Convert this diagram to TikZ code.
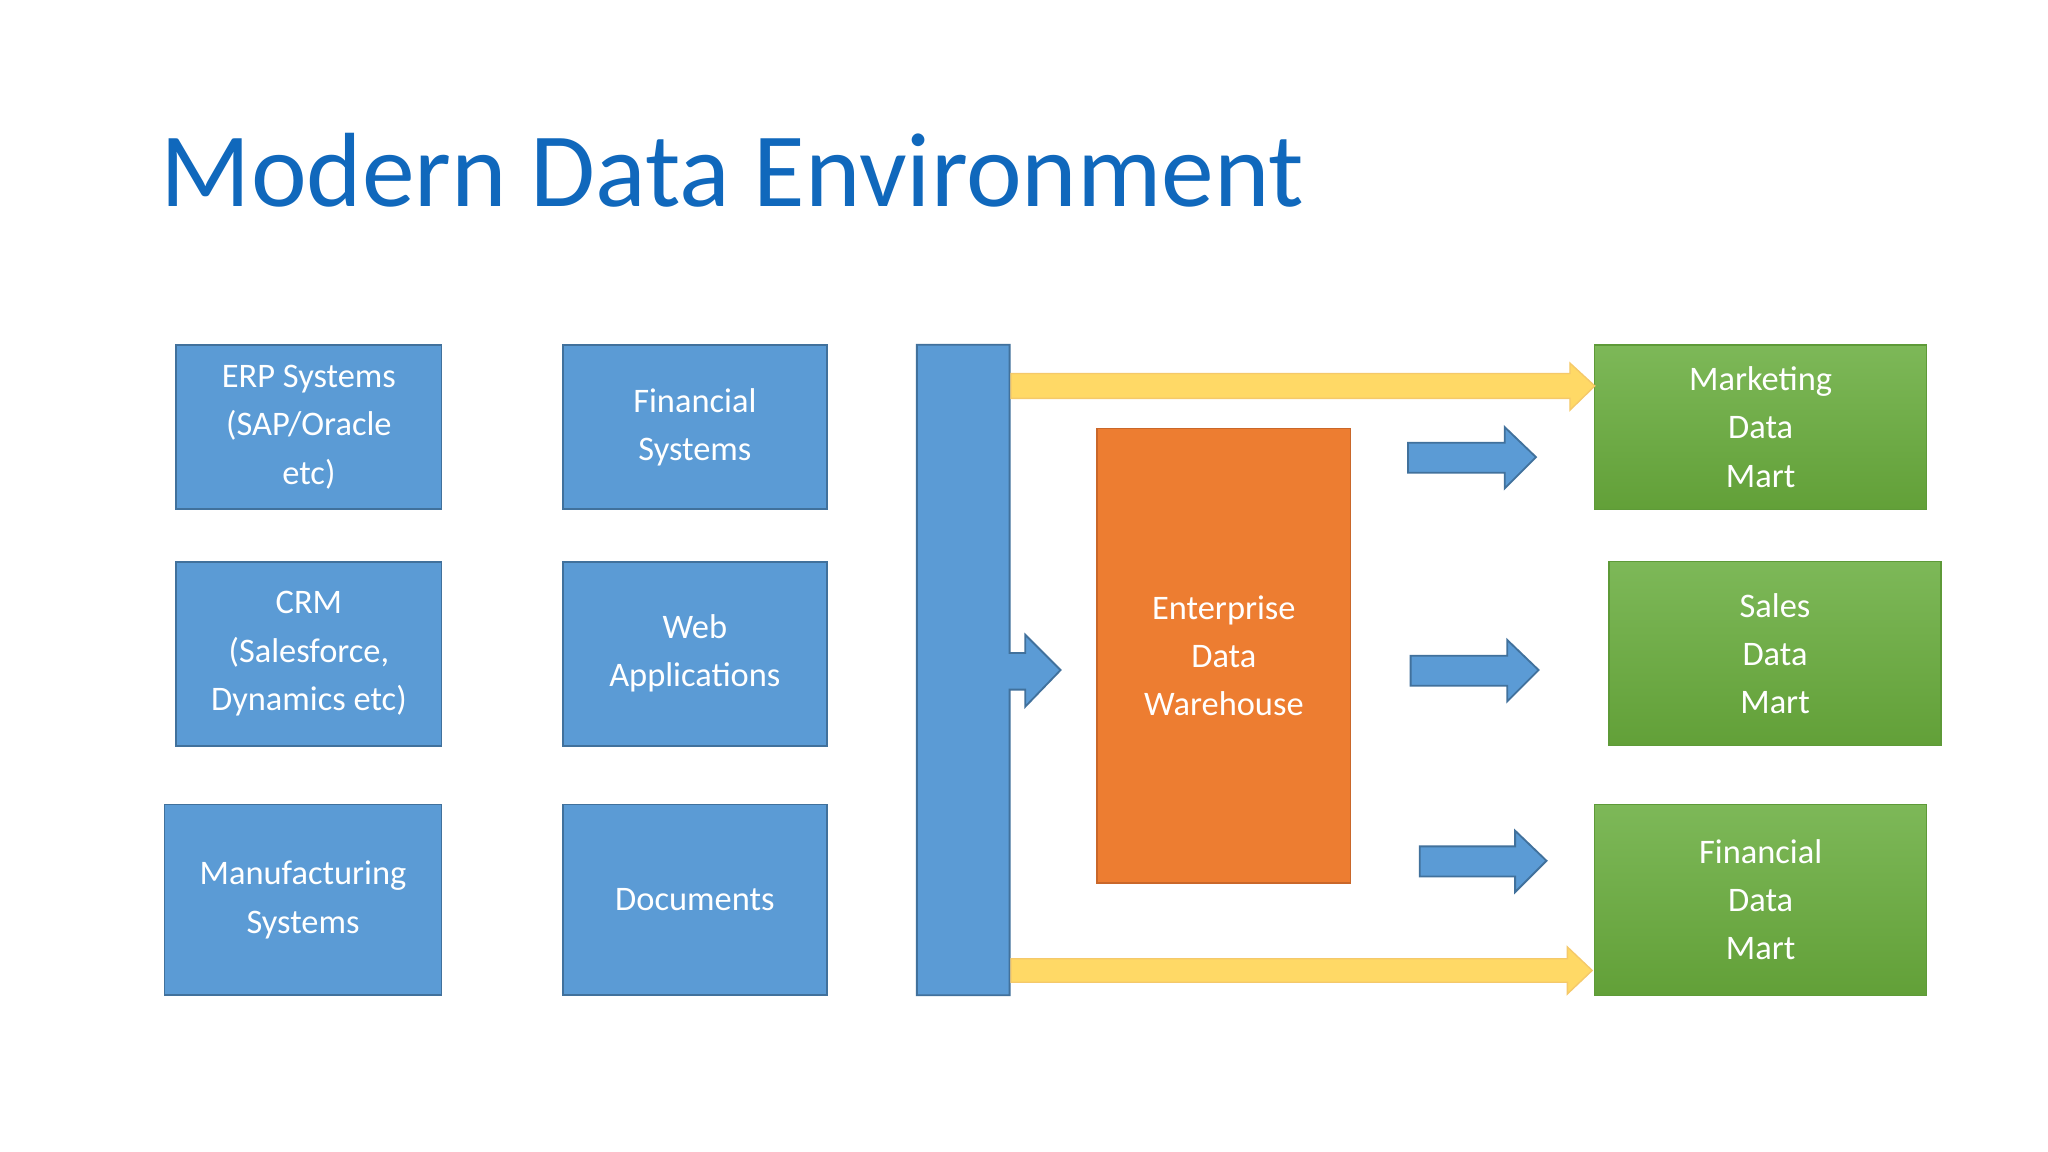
\documentclass[tikz,border=0pt]{standalone}
\usepackage{fontspec}
\setmainfont{Carlito}
\begin{document}
\begin{tikzpicture}[x=0.02cm,y=-0.02cm,
  lbl/.style={text=white,font=\fontsize{15}{21}\selectfont,align=center},
  bluebox/.style={fill=blue1,draw=blue2,line width=0.8pt},
  greenbox/.style={top color=green1,bottom color=green2,draw=green3,line width=0.6pt},
  barr/.style={fill=blue1,draw=blue2,line width=0.8pt,line join=miter},
  yarr/.style={fill=yel,draw=yel2,line width=0.6pt}]
\definecolor{blue1}{HTML}{5B9BD5}\definecolor{blue2}{HTML}{41719C}
\definecolor{org}{HTML}{ED7D31}\definecolor{org2}{HTML}{C9672A}
\definecolor{green1}{HTML}{7DB858}\definecolor{green2}{HTML}{62A038}\definecolor{green3}{HTML}{5E9A38}
\definecolor{yel}{HTML}{FFD966}\definecolor{yel2}{HTML}{F5C96A}
\definecolor{ttl}{HTML}{1068BC}
\fill[white] (0,0) rectangle (1568,882);
\useasboundingbox (0,0) rectangle (1568,882);
\node[anchor=west,text=ttl,font=\fontsize{46}{50}\selectfont] (title) at (117,130) {Modern Data Environment};
% source boxes
\draw[bluebox] (135,264) rectangle (338,390); \node[lbl] (erp) at (236.5,327) {ERP Systems\\(SAP/Oracle\\etc)};
\draw[bluebox] (431,264) rectangle (633,390); \node[lbl] (fin) at (532,327) {Financial\\Systems};
\draw[bluebox] (135,430) rectangle (338,571); \node[lbl] (crm) at (236.5,500.5) {CRM\\(Salesforce,\\Dynamics etc)};
\draw[bluebox] (431,430) rectangle (633,571); \node[lbl] (web) at (532,500.5) {Web\\Applications};
\draw[bluebox] (126,616) rectangle (338,762); \node[lbl] (man) at (232,689) {Manufacturing\\Systems};
\draw[bluebox] (431,616) rectangle (633,762); \node[lbl] (doc) at (532,689) {Documents};
% bar with arrow
\draw[barr] (702,264) -- (773,264) -- (773,500) -- (785,500) -- (785,486) -- (812,513) -- (785,541) -- (785,528) -- (773,528) -- (773,762) -- (702,762) -- cycle;
% EDW
\draw[fill=org,draw=org2,line width=0.6pt] (840,328) rectangle (1034,676);
\node[lbl] (edw) at (937,502) {Enterprise\\Data\\Warehouse};
% marts
\draw[greenbox] (1221,264) rectangle (1475,390); \node[lbl] (mkt) at (1348,327) {Marketing\\Data\\Mart};
\draw[greenbox] (1232,430) rectangle (1486,571); \node[lbl] (sal) at (1359,500.5) {Sales\\Data\\Mart};
\draw[greenbox] (1221,616) rectangle (1475,762); \node[lbl] (fdm) at (1348,689) {Financial\\Data\\Mart};
% blue arrows
\draw[barr] (1078,339) -- (1152,339) -- (1152,327) -- (1176,350) -- (1152,374) -- (1152,362) -- (1078,362) -- cycle;
\draw[barr] (1080,502) -- (1154,502) -- (1154,490) -- (1178,513) -- (1154,537) -- (1154,525) -- (1080,525) -- cycle;
\draw[barr] (1087,648) -- (1160,648) -- (1160,636) -- (1184,659) -- (1160,683) -- (1160,671) -- (1087,671) -- cycle;
% yellow arrows
\draw[yarr] (774,286) -- (1202,286) -- (1202,278) -- (1221,295.5) -- (1202,314) -- (1202,305) -- (774,305) -- cycle;
\draw[yarr] (774,734) -- (1200,734) -- (1200,725) -- (1219,743) -- (1200,761) -- (1200,752) -- (774,752) -- cycle;
\end{tikzpicture}
\end{document}
